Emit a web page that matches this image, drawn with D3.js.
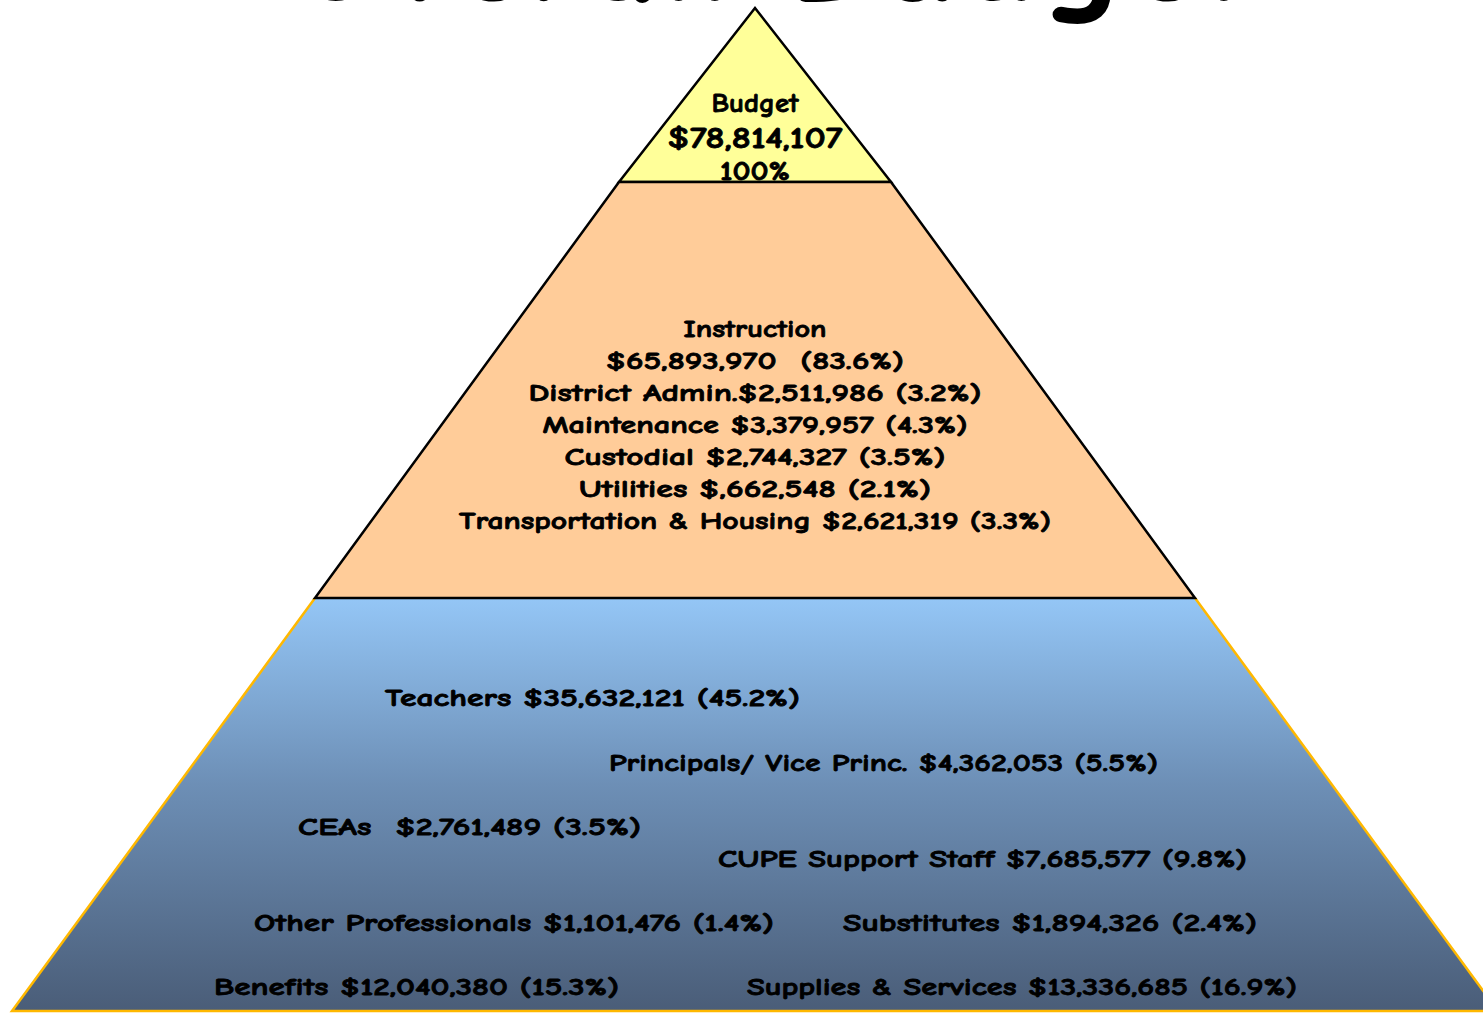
<html>
<head>
	<title>overall budget pyramid</title>
	<style>
		body {
			margin: 0;
			padding: 0;
			background: #fff;
			overflow: hidden;
		}
		svg {
			display: block;
		}
		text {
			font-family: "Comic Sans MS", "Comic Neue", "DejaVu Sans", sans-serif;
			font-weight: bold;
			fill: #000;
			stroke: #000;
			stroke-width: 0.8px;
			white-space: pre;
		}
		.title {
			font-weight: bold;
			stroke-width: 2px;
		}
	</style>
</head>
<body>

	<svg width="1483" height="1013"></svg>

	<script src="https://d3js.org/d3.v7.min.js"></script>
	<script>

		// dati
		var title = "Overall Budget";

		var totalName = "Budget";
		var totalAmount = "$78,814,107";
		var totalPercent = "100%";

		var functionNames = ["Instruction", "District Admin.", "Maintenance", "Custodial", "Utilities", "Transportation & Housing"];
		var functionAmounts = ["$65,893,970", "$2,511,986", "$3,379,957", "$2,744,327", "$,662,548", "$2,621,319"];
		var functionPercents = ["83.6%", "3.2%", "4.3%", "3.5%", "2.1%", "3.3%"];

		var staffNames = ["Teachers", "Principals/ Vice Princ.", "CEAs ", "CUPE Support Staff", "Other Professionals", "Substitutes", "Benefits", "Supplies & Services"];
		var staffAmounts = ["$35,632,121", "$4,362,053", "$2,761,489", "$7,685,577", "$1,101,476", "$1,894,326", "$12,040,380", "$13,336,685"];
		var staffPercents = ["45.2%", "5.5%", "3.5%", "9.8%", "1.4%", "2.4%", "15.3%", "16.9%"];

		// layout delle etichette in basso: [x sinistra, y centro, larghezza]
		var staffLayout = [
			[385, 697, 415], [609, 762, 549], [298, 826, 343], [718, 858, 529],
			[254, 922, 520], [843, 922, 414], [214, 986, 405], [747, 986, 550]
		];

		var svg = d3.select("svg");
		var cx = 755;

		// livelli della piramide: 0 = punta, 3 = base
		var y = d3.scaleLinear().domain([0, 1, 2, 3]).range([8, 182, 598, 1011]);
		var halfWidth = d3.scaleLinear().domain([0, 1, 2, 3]).range([0, 136, 440, 743]);

		function tierPoints(level) {
			return [
				[cx - halfWidth(level), y(level)],
				[cx - halfWidth(level + 1), y(level + 1)],
				[cx + halfWidth(level + 1), y(level + 1)],
				[cx + halfWidth(level), y(level)]
			];
		}

		var line = d3.line();

		// gradiente blu
		var grad = svg.append("defs")
			.append("linearGradient")
			.attr("id", "blue")
			.attr("x1", 0).attr("y1", 0).attr("x2", 0).attr("y2", 1);
		grad.append("stop").attr("offset", "0%").attr("stop-color", "#94c6f6");
		grad.append("stop").attr("offset", "45%").attr("stop-color", "#6d8fb6");
		grad.append("stop").attr("offset", "100%").attr("stop-color", "#4a5d78");

		// titolo (tagliato in alto)
		svg.append("text")
			.attr("class", "title")
			.attr("x", 770)
			.attr("y", -1)
			.attr("text-anchor", "middle")
			.attr("textLength", 960)
			.attr("lengthAdjust", "spacingAndGlyphs")
			.style("font-size", "140px")
			.text(title);

		// base blu, bordo dorato senza lato superiore
		var bottom = tierPoints(2);
		svg.append("path")
			.attr("d", line(bottom))
			.attr("fill", "url(#blue)")
			.attr("stroke", "#ffb800")
			.attr("stroke-width", 2.5);

		// punta gialla
		svg.append("path")
			.attr("d", line(tierPoints(0)) + "Z")
			.attr("fill", "#ffff99")
			.attr("stroke", "#000")
			.attr("stroke-width", 2.5)
			.attr("stroke-linejoin", "miter");

		var topLines = [[totalName, 27, 87], [totalAmount, 31, 175], [totalPercent, 27, 70]];
		svg.selectAll(".top")
			.data(topLines)
			.enter()
			.append("text")
			.attr("class", "top")
			.attr("x", cx)
			.attr("y", function(d, i) { return y(0) + 95 + i * 34; })
			.attr("dy", "0.35em")
			.attr("text-anchor", "middle")
			.attr("textLength", function(d) { return d[2]; })
			.attr("lengthAdjust", "spacingAndGlyphs")
			.style("font-size", function(d) { return d[1] + "px"; })
			.text(function(d) { return d[0]; });

		// livello arancione
		svg.append("path")
			.attr("d", line(tierPoints(1)) + "Z")
			.attr("fill", "#ffcc99")
			.attr("stroke", "#000")
			.attr("stroke-width", 2.5);

		var midLines = [functionNames[0]];
		functionNames.forEach(function(name, i) {
			if (i == 0) {
				midLines.push(functionAmounts[i] + "  (" + functionPercents[i] + ")");
			} else {
				var sep = i == 1 ? "" : " ";
				midLines.push(name + sep + functionAmounts[i] + " (" + functionPercents[i] + ")");
			}
		});
		var midWidths = [143, 298, 453, 425, 381, 352, 592];

		svg.selectAll(".mid")
			.data(midLines)
			.enter()
			.append("text")
			.attr("class", "mid")
			.attr("x", cx)
			.attr("y", function(d, i) { return 328 + i * 32; })
			.attr("dy", "0.35em")
			.attr("text-anchor", "middle")
			.attr("textLength", function(d, i) { return midWidths[i]; })
			.attr("lengthAdjust", "spacingAndGlyphs")
			.style("font-size", "25px")
			.text(function(d) { return d; });

		// etichette del livello blu
		svg.selectAll(".staff")
			.data(staffNames)
			.enter()
			.append("text")
			.attr("class", "staff")
			.attr("x", function(d, i) { return staffLayout[i][0]; })
			.attr("y", function(d, i) { return staffLayout[i][1]; })
			.attr("dy", "0.35em")
			.attr("textLength", function(d, i) { return staffLayout[i][2]; })
			.attr("lengthAdjust", "spacingAndGlyphs")
			.style("font-size", "25px")
			.text(function(d, i) { return d + " " + staffAmounts[i] + " (" + staffPercents[i] + ")"; });

	</script>
</body>
</html>
